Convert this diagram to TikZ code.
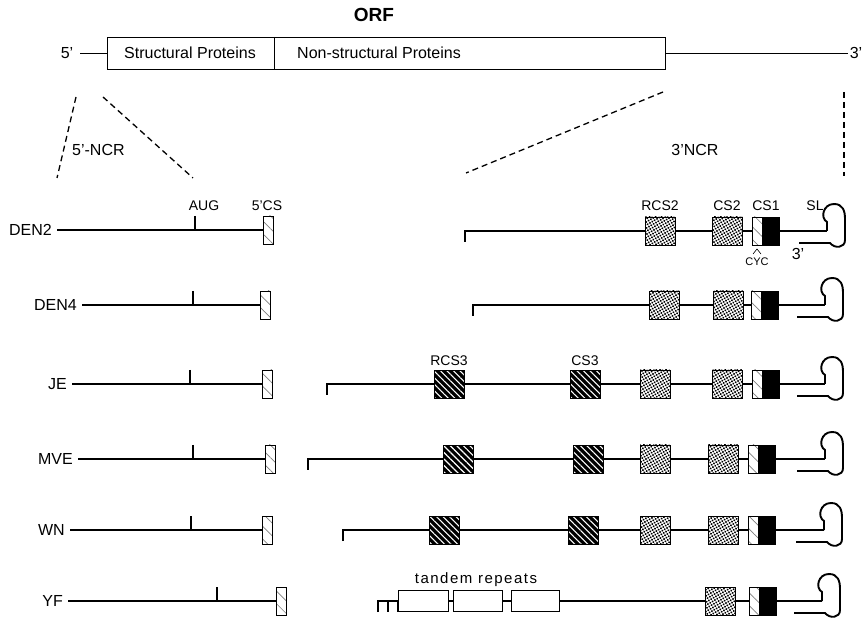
\documentclass[tikz,border=0pt]{standalone}
\usepackage{fontspec}
\setmainfont{Liberation Sans}
\usetikzlibrary{patterns.meta}
\tikzset{
  seq/.style={line width=1.9pt},
  thinl/.style={line width=0.9pt},
  dashl/.style={line width=1.3pt, dash pattern=on 6pt off 4pt},
  lab/.style={font=\fontsize{16}{16}\selectfont, inner sep=0pt},
  slab/.style={font=\fontsize{14}{14}\selectfont, inner sep=0pt},
  tlab/.style={font=\fontsize{11}{11}\selectfont, inner sep=0pt},
  dotbox/.style={draw, line width=0.9pt, fill=white, postaction={pattern={Dots[radius=1.1pt,distance=2.7pt,angle=30]}}, postaction={draw, line width=0.9pt}},
  blkbox/.style={draw, line width=0.9pt, fill=black, postaction={pattern={Lines[angle=-45,distance=4.6pt,line width=1.1pt]}, pattern color=white}, postaction={draw, line width=0.9pt}},
  lhbox/.style={draw, line width=0.9pt, fill=white, postaction={pattern={Lines[angle=-45,distance=9pt,line width=0.7pt]}, pattern color=gray}, postaction={draw, line width=0.9pt}},
  trbox/.style={draw, line width=0.9pt, fill=white},
}
\newcommand\mkleft[6]{% name, label, y, line start, aug x, box x
  \node[lab, anchor=east] (#1) at (#4-5,#3) {#2};
  \draw[seq] (#4,#3) -- (#6,#3);
  \draw[seq] (#5,#3-14) -- (#5,#3);
  \path[lhbox] (#6,#3-14) rectangle ++(10,28);
}
\newcommand\mkdot[2]{\path[dotbox] (#1,#2-14) rectangle ++(30,28);}
\newcommand\mkblk[2]{\path[blkbox] (#1,#2-14) rectangle ++(30,28);}
\newcommand\mkcs[2]{%
  \path[lhbox] (#1,#2-14) rectangle ++(10,28);
  \draw[line width=0.9pt, fill=black] (#1+10,#2-14) rectangle ++(17,28);}
\newcommand\mkloop[2]{% right x, y
  \draw[seq] (#1-18,#2) -- (#1-18,#2-9) .. controls (#1-25,#2-13) and (#1-22,#2-27) .. (#1-11,#2-27)
    .. controls (#1-2,#2-27) and (#1,#2-20) .. (#1,#2-12) -- (#1,#2+9)
    .. controls (#1,#2+17) and (#1-10,#2+18) .. (#1-15,#2+12) -- (#1-46,#2+12);}
\newcommand\mkright[3]{% start x, y, right x
  \draw[seq] (#1,#2+11) -- (#1,#2) -- (#3-18,#2);}

\begin{document}
\begin{tikzpicture}[x=1pt,y=-1pt]
\useasboundingbox (0,0) rectangle (863,620);
% top map
\node[font=\fontsize{19}{19}\selectfont\bfseries, inner sep=0pt] (orf) at (374,15) {ORF};
\node[lab] (p5) at (67,53) {5'};
\node[lab] (p3) at (856,53) {3'};
\draw[thinl] (80,53) -- (107,53);
\draw[thinl] (107,37) rectangle (665,69);
\draw[thinl] (274,37) -- (274,69);
\draw[thinl] (665,53) -- (848,53);
\node[lab, anchor=west] (sp) at (124,53) {Structural Proteins};
\node[lab, anchor=west] (nsp) at (297,53) {Non-structural Proteins};
% zoom lines
\draw[dashl] (76,97) -- (57,178);
\draw[dashl] (103,97) -- (193,178);
\draw[dashl] (663,92) -- (466,173);
\draw[dashl] (844,92) -- (844,176);
\node[lab, anchor=west] (ncr5) at (72,150) {5'-NCR};
\node[lab] (ncr3) at (695,150) {3'NCR};

% left parts
\mkleft{den2}{DEN2}{230}{57}{195}{263}
\mkleft{den4}{DEN4}{305}{82}{193}{260}
\mkleft{je}{JE}{384}{72}{190}{262}
\mkleft{mve}{MVE}{459}{78}{193}{265}
\mkleft{wn}{WN}{530}{70}{191}{262}
\mkleft{yf}{YF}{601}{68}{217}{276}
\node[slab] (aug) at (204,206) {AUG};
\node[slab] (cs5) at (267,206) {5'CS};

% DEN2 right
\mkright{465}{231}{845}
\mkdot{645}{231}\mkdot{712}{231}\mkcs{752}{231}\mkloop{845}{231}
\node[slab] (rcs2) at (660,206) {RCS2};
\node[slab] (cs2) at (727,206) {CS2};
\node[slab] (cs1) at (766,206) {CS1};
\node[slab] (sl) at (815,206) {SL};
\node[lab] (t3) at (798,254) {3'};
\draw[line width=0.6pt] (753,254) -- (757,249) -- (761,254);
\node[tlab] (cyc) at (757,262) {CYC};

% DEN4 right
\mkright{473}{305}{843}
\mkdot{649}{305}\mkdot{713}{305}\mkcs{751}{305}\mkloop{843}{305}

% JE right
\mkright{327}{384}{843}
\mkblk{434}{384}\mkblk{570}{384}\mkdot{640}{384}\mkdot{712}{384}\mkcs{752}{384}\mkloop{843}{384}
\node[slab] (rcs3) at (449,361) {RCS3};
\node[slab] (cs3) at (585,361) {CS3};

% MVE right
\mkright{308}{459}{843}
\mkblk{443}{459}\mkblk{573}{459}\mkdot{640}{459}\mkdot{708}{459}\mkcs{748}{459}\mkloop{843}{459}

% WN right
\mkright{343}{530}{842}
\mkblk{429}{530}\mkblk{568}{530}\mkdot{640}{530}\mkdot{708}{530}\mkcs{748}{530}\mkloop{842}{530}

% YF right
\draw[seq] (378,612) -- (378,601) -- (822,601);
\draw[seq] (388,601) -- (388,612);
\draw[seq] (398,601) -- (398,612);
\path[trbox] (398,590) rectangle (448,611);
\path[trbox] (453,590) rectangle (502,611);
\path[trbox] (511,590) rectangle (559,611);
\node[lab, font=\fontsize{15}{15}\selectfont\addfontfeature{LetterSpace=10}] (tr) at (476,580) {tandem repeats};
\mkdot{705}{601}\mkcs{749}{601}\mkloop{840}{601}
\end{tikzpicture}
\end{document}
